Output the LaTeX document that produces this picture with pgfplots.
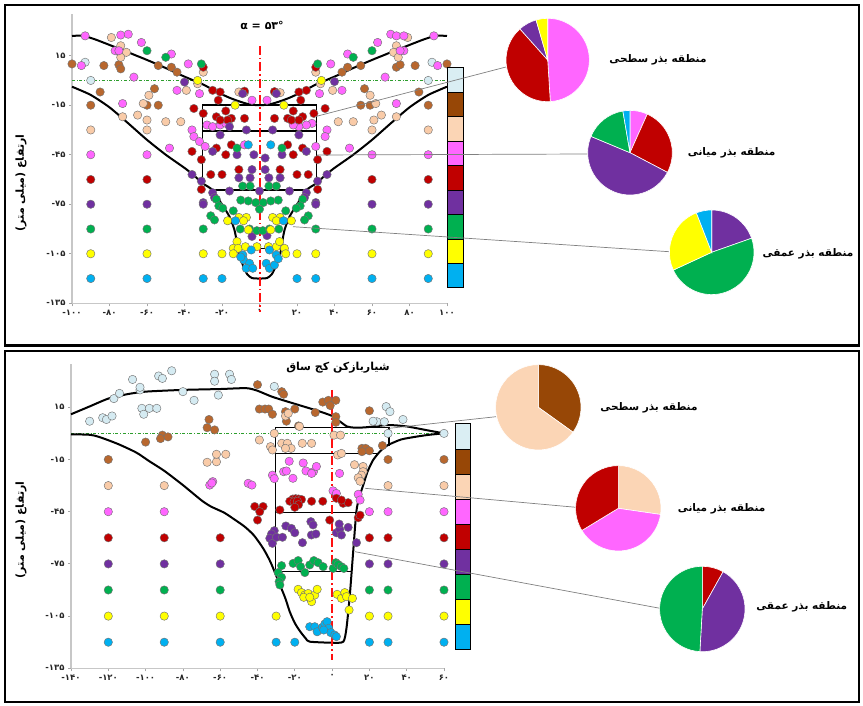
\documentclass[border=0pt]{standalone}
\usepackage{pgfplots}
\pgfplotsset{compat=1.18}
\usepackage{fontspec}
\setmainfont{DejaVu Sans}
\newfontfamily\digfont{DejaVu Sans}
\newfontfamily\arabicfont[Script=Arabic]{DejaVu Sans}
\TeXXeTstate=1
\definecolor{pLB}{HTML}{D5EBF2}
\definecolor{pBR}{HTML}{B8672E}
\definecolor{pPE}{HTML}{F9CBA8}
\definecolor{pPK}{HTML}{FF66FF}
\definecolor{pRD}{HTML}{C00000}
\definecolor{pPU}{HTML}{7030A0}
\definecolor{pGR}{HTML}{00B050}
\definecolor{pYE}{HTML}{FFFF00}
\definecolor{pBL}{HTML}{00B0F0}
\definecolor{bLB}{HTML}{DAEEF3}
\definecolor{bBR}{HTML}{974706}
\definecolor{bPE}{HTML}{FBD5B5}
\definecolor{gline}{HTML}{2E9E2E}
\definecolor{rline}{HTML}{FF1010}
\pgfplotsset{
  panel/.style={scale only axis, anchor=south west, clip=false,
    axis lines*=left, axis line style={-, draw=black!22, line width=1.3pt},
    tick style={draw=black!35, line width=0.8pt}, major tick length=3pt, tick align=outside,
    ymin=-135, ymax=40, ytick={15,-15,-45,-75,-105,-135},
    yticklabels={۱۵,-۱۵,-۴۵,-۷۵,-۱۰۵,-۱۳۵},
    tick label style={font=\digfont\bfseries\fontsize{8.5}{10}\selectfont, text=black!85}},
  pts/.style={only marks, mark=*, mark size=4.2pt, mark options={fill=#1, draw=black!55, line width=0.45pt}},
  crv/.style={black, line width=2pt, smooth, tension=0.4},
  box/.style={black, line width=1.5pt},
  rdash/.style={draw=rline, line width=2pt, dash pattern=on 9pt off 3pt on 1.5pt off 3pt}
}
\newcommand\pie[3]{%
  \xdef\ang{90}%
  \foreach \v/\c in {#3}{%
    \pgfmathsetmacro\endang{\ang-3.6*\v}%
    \fill[\c, draw=white, line width=0.6pt] (#1) -- ++(\ang:#2) arc[start angle=\ang, end angle=\endang, radius=#2] -- cycle;
    \global\let\ang\endang}}
\newcommand\lab[1]{{\arabicfont\bfseries\beginR #1\endR}}
\begin{document}
\begin{tikzpicture}[x=1pt,y=1pt]
\useasboundingbox (0,0) rectangle (863,705);
\draw[line width=2.5pt] (5,700) rectangle (859,359.5);
\draw[line width=2.5pt] (5,354) rectangle (859,3);
% ================= TOP =================
\begin{axis}[panel, at={(72pt,401.7pt)}, width=375pt, height=288.9pt,
  xmin=-100, xmax=100, xtick={-100,-80,...,100},
  xticklabels={-۱۰۰,-۸۰,-۶۰,-۴۰,-۲۰,۰,۲۰,۴۰,۶۰,۸۰,۱۰۰}]
\addplot[pts=pLB] coordinates {(-93,11) (-90,0) (92,11) (90,0)};
\addplot[pts=pBR] coordinates {(-100,10) (-83,9) (-75,9.5) (-74,7) (-54,9) (-47,8) (-44,5) (-85,-7) (-56,-5) (-60,-15) (-54,-15) (-90,-15) (44,5) (47,8) (54,9) (73,8) (75,9.5) (83,9) (100,10) (56,-5) (54,-15) (59,-15) (85,-7) (90,-15)};
\addplot[pts=pPE] coordinates {(-79,26) (-74,21) (-75,17.4) (-71,17) (-74,14) (-39,-6) (-33,-2) (-30,5) (-59,-9) (-62,-14) (-65,-21) (-60,-24) (-50,-25) (-42,-25) (-73,-22) (-90,-30) (-60,-30) (-11,-7) (-8,-7.4) (8,-7) (11,-7.4) (79,26) (73,21) (74,17.4) (71.5,17) (74,14) (39,-6) (32.5,-2) (30,5) (59,-9) (62,-14) (65,-21) (61,-24) (50,-25) (42,-25) (73,-22) (90,-30) (60,-30)};
\addplot[pts=pPK] coordinates {(-93,27) (-95,9) (-77,18) (-75,18) (-74,27.5) (-70,28) (-63,23) (-47,16) (-38,10) (-67,2) (-44,-6) (-32,-8) (-73,-14) (-48,-41) (-36,-30) (-35,-34) (-32,-37) (-28,-27) (-25,-28) (-21,-27) (-18,-26) (-4,-12) (-90,-45) (-60,-45) (-29,-40) (-8,-39)
 (93,27) (95,9) (77,18) (75,18) (70,28) (73,27) (77,27) (63,23) (47,16) (38,10) (67,2) (44,-6) (32,-8) (73,-14) (48,-41) (36,-30) (35,-34) (28,-26) (25,-27) (21,-28) (18,-27) (4,-12) (90,-45) (60,-45) (30,-40)};
\addplot[pts=pRD] coordinates {(-25,-6) (-21,-7) (-22,-12) (-35,-17) (-30,-20) (-23,-22) (-18,-18.5) (-15,-23) (-17,-24) (-21,-24) (-8,-23) (-30,8) (25,-6) (21,-7) (22,-12) (35,-17) (29,-20) (23,-22) (18,-18.5) (15,-23) (17,-24) (21,-24) (8,-23) (30,8) (-8,-6.5) (8,-6.8) (-36,-43) (-31,-48) (-23,-41) (-15,-39) (-11,-54) (-26,-57) (-20,-57) (-31,-66) (11,-54) (36,-43) (31,-48) (23,-41) (15,-39) (26,-57) (20,-57) (31,-66) (-90,-60) (-60,-60) (60,-60) (90,-60) (-18,-45) (18,-45)};
\addplot[pts=pPU] coordinates {(-40,-1) (40,-0.7) (-9,-8) (9,-8) (-25,-43) (-12,-45) (-3,-45) (-4,-54) (3,-54) (-36,-57) (-31,-61) (-25,-68) (-24,-71) (-11,-59) (-5,-59) (-16,-67) (0,-67) (-30,-74) (25,-43) (12,-45) (3,-47) (36,-57) (31,-61) (25,-68) (24,-71) (11,-59) (5,-59) (16,-67) (30,-74) (-4,-94.5) (4,-94) (-90,-75) (-60,-75) (-30,-75) (30,-75) (60,-75) (90,-75) (-21,-33) (-7,-30) (7,-30) (21,-33) (-16,-28)};
\addplot[pts=pGR] coordinates {(-60,18) (-50,14) (-31,10) (60,18) (50,14) (31,10) (-12,-41) (12,-41) (-9,-64) (-5,-64) (5,-64) (9,-64) (-10,-72.5) (-6,-73) (-2,-74) (2,-74) (6,-73) (10,-72.5) (0,-78) (-23,-72) (-21.7,-76) (-19.6,-77.4) (-14,-79) (-26,-82) (-24,-84.5) (-10.3,-90) (-5.3,-90) (-1.4,-91) (1.8,-91) (23,-72) (21.7,-76) (19.6,-77.4) (14,-79) (26,-82) (24,-84.5) (10.3,-90) (5.3,-90) (-90,-90) (-60,-90) (-30,-90) (30,-90) (60,-90) (90,-90)};
\addplot[pts=pYE] coordinates {(-33,0) (33,0) (-13,-15) (13,-15) (-17,-85) (-11,-83) (-7,-83) (-8.5,-85) (7,-83) (11,-83) (9,-85) (17,-85) (-6,-90.5) (6,-90.5) (-12,-97.6) (-14,-101.7) (-11.4,-101.7) (-7.5,-100.7) (-1.4,-100.7) (4.8,-100.7) (9,-100.7) (10.7,-97.6) (13.3,-101.7) (-14,-105) (14,-105) (-90,-105) (-60,-105) (-30,-105) (-20,-105) (20,-105) (30,-105) (60,-105) (90,-105)};
\addplot[pts=pBL] coordinates {(-6,-39) (6,-39) (-12.8,-85) (12.8,-85) (-8.9,-105.7) (-4.4,-102.7) (8.9,-105.7) (5.3,-102.7) (-8.5,-108.7) (-5.3,-110.8) (-7.1,-113.8) (-3.6,-113.8) (3.6,-110.8) (5.3,-113.8) (8,-111.8) (-10,-107) (10,-108) (-90,-120) (-60,-120) (-30,-120) (-20,-120) (20,-120) (30,-120) (60,-120) (90,-120)};
\addplot[gline, dash dot, line width=1pt] coordinates {(-100,0) (100,0)};
\addplot[crv] coordinates {(-100,27) (-94,27) (-88,25) (-80,21.5) (-70,17) (-60,12.4) (-50,7.5) (-40,2.3) (-30,-2.5) (-23,-6.8) (-16,-10.5) (-10,-13) (-5,-14.6) (0,-15) (5,-14.6) (10,-13) (16,-10.5) (23,-6.8) (30,-2.5) (40,2.3) (50,7.5) (60,12.4) (70,17) (80,21.5) (88,25) (94,27) (100,27)};
\addplot[crv] coordinates {(-100,-3.8) (-90,-8.8) (-80,-16.3) (-70,-26) (-60,-36) (-50,-45) (-40,-53) (-35,-57.5) (-30.3,-62.3) (-25,-66.4) (-20.4,-74.4) (-16,-82.5) (-13.5,-90) (-12.4,-96) (-11.8,-101.7) (-10,-108) (-8.5,-113) (-6.5,-117.5) (-4,-119.7) (0,-120) (4,-119.7) (6.5,-117.5) (8.5,-113) (10,-108) (11.8,-101.7) (12.4,-96) (13.5,-90) (16,-82.5) (20.4,-74.4) (25,-66.4) (30.3,-62.3) (35,-57.5) (40,-53) (50,-45) (60,-36) (70,-26) (80,-16.3) (90,-8.8) (100,-3.8)};
\addplot[box] coordinates {(-30.3,-62.3) (-30.3,-15) (30.3,-15) (30.3,-62.3)};
\addplot[box] coordinates {(-30.3,-30.6) (30.3,-30.6)};
\addplot[box] coordinates {(-25,-66.4) (25,-66.4)};
\addplot[box] coordinates {(-12,-101.7) (11.5,-101.7)};
\addplot[rdash] coordinates {(0.3,21) (0.3,-140)};
\end{axis}
% ================= BOTTOM =================
\begin{axis}[panel, at={(71pt,36.7pt)}, width=373pt, height=304.5pt,
  xmin=-140, xmax=60, xtick={-140,-120,...,60},
  xticklabels={-۱۴۰,-۱۲۰,-۱۰۰,-۸۰,-۶۰,-۴۰,-۲۰,۰,۲۰,۴۰,۶۰}]
\addplot[pts=pLB] coordinates {(-130,7) (-123,9) (-121,8) (-118,10) (-117,20) (-114,23) (-107,31) (-103,25) (-103,26.5) (-102,14.4) (-101,11) (-98,14.4) (-94,14.4) (-93,33) (-91,31.6) (-86,36) (-80,24) (-74,19) (-63,34) (-63,30) (-61,22) (-55,34) (-54,31) (-31,27) (29,15.4) (31,12.5) (24,6.7) (28,6.7) (38,8) (22,7) (30,0) (60,0)};
\addplot[pts=pBR] coordinates {(-40,28) (-27,24) (-26,22.5) (-39,14) (-36,14) (-34,14) (-32,11) (-25,12.5) (-20,14) (-24.5,7) (-18,4.3) (-9,12) (-5,18) (-2,19) (2,19) (-1,16) (2,9.6) (2,6.4) (20,13) (16,-8.6) (18,-8.6) (20,-10) (16,-10.5) (27,-7) (-66,8) (-67,3.3) (-63,2) (-91,-1) (-92,-3) (-88,-2) (-100,-5) (-120,-15) (30,-15) (60,-15)};
\addplot[pts=pPE] coordinates {(-31,0) (-27,-5.7) (-24,-5.7) (-22,-8.6) (-25,-8.6) (-33,-7.6) (-32,-9.5) (-16,-5.7) (-11,-5.7) (1,-1) (4.5,-1) (3,-12.4) (5,-11.5) (12,-18) (16.6,-19) (16.6,-22) (15.7,-24) (14,-25.5) (15,-27.5) (-25,10) (-23.5,11.5) (-39,-3.8) (-67,-16.6) (-62,-16.3) (-57,-12) (-62,-12) (-120,-30) (-90,-30) (30,-30) (60,-30) (-17.5,4)};
\addplot[pts=pPK] coordinates {(-23,-16) (-15.5,-17) (-26,-22) (-24.5,-21.6) (-21,-25.8) (-14,-21.6) (-10,-22) (-8.4,-19) (-11,-23) (4,-23) (0.5,-33) (2.3,-34.5) (14,-35) (15,-38.3) (-32,-24) (-31,-26) (-64,-27.7) (-65.6,-29.7) (-64.5,-28.5) (-45,-28.7) (-43,-29.7) (-120,-45) (-90,-45) (20,-45) (30,-45) (60,-45)};
\addplot[pts=pRD] coordinates {(-21,-37.7) (-19.5,-37.5) (-18,-37.7) (-16.4,-38) (-22.7,-39) (-20.4,-39.3) (-18.6,-39) (-18,-41) (-20,-42.5) (-11,-39) (-5,-39) (-28,-44) (-41.5,-42) (-37,-42) (-38.8,-45) (-40,-49.8) (2.3,-37.3) (5.9,-40.2) (8.6,-39.8) (5,-38.3) (-1.3,-49.8) (14,-48.5) (15,-47) (-120,-60) (-90,-60) (-60,-60) (20,-60) (30,-60) (60,-60)};
\addplot[pts=pPU] coordinates {(-24.8,-53.2) (-21.8,-54.6) (-20,-57.1) (-31,-55.9) (-32.5,-57.8) (-33.4,-60.3) (-32,-63.2) (-29.8,-59.7) (-26.6,-59.7) (-15.9,-62.8) (-11.4,-50.7) (-10.2,-52.6) (-11.1,-58.4) (-8.7,-57.8) (2.3,-57.1) (4.1,-55.1) (5,-58.4) (3.8,-52.1) (8.6,-54) (13.1,-62.8) (-120,-75) (-90,-75) (-60,-75) (20,-75) (30,-75) (60,-75)};
\addplot[pts=pGR] coordinates {(-27.1,-76) (-20.9,-74.7) (-18.2,-73.1) (-16.9,-76.6) (-14.6,-80) (-12,-75.6) (-9.8,-73.1) (-7.5,-74.3) (-4.8,-76.6) (0.6,-77.6) (2,-74.3) (3.2,-75.3) (5,-76.6) (6.3,-77.6) (-28.9,-80) (-27.1,-82.7) (-28.4,-85.2) (-28,-87.1) (-120,-90) (-90,-90) (-60,-90) (20,-90) (30,-90) (60,-90)};
\addplot[pts=pYE] coordinates {(-18.2,-89.6) (-16.4,-91.5) (-14.6,-92.9) (-12.8,-92) (-11,-96.7) (-9.3,-92.9) (-8,-89.6) (-15.2,-94.2) (-12,-94.2) (2.7,-92.5) (5,-94.8) (6.8,-91.5) (7.7,-93.8) (10.9,-94.8) (9.1,-101.5) (-120,-105) (-90,-105) (-60,-105) (-30,-105) (20,-105) (30,-105) (60,-105)};
\addplot[pts=pBL] coordinates {(-12,-111.1) (-9.3,-111.1) (-8,-114) (-5.2,-111.5) (-3.9,-109.5) (-2.7,-108.2) (-1.8,-112) (-0.7,-114.5) (1.4,-115.9) (2.3,-116.8) (-4.5,-113) (-120,-120) (-90,-120) (-60,-120) (-30,-120) (-20,-120) (20,-120) (30,-120) (60,-120)};
\addplot[gline, dash dot, line width=1pt] coordinates {(-140,0) (60,0)};
\addplot[crv] coordinates {(-140,11) (-130,15.5) (-120,20) (-110,22.5) (-100,24) (-80,25) (-60,25.5) (-46,26) (-40,24.5) (-32,21) (-20,17) (-12,14.4) (-5,12) (0,10) (4,7) (8,4) (12,3.3) (18,3.5) (30,4.8) (40,4) (50,2) (60,0)};
\addplot[crv] coordinates {(-140,-0.5) (-130,-0.8) (-125,-2) (-115,-6) (-105,-11) (-98,-16) (-90,-21.5) (-80,-29.7) (-70,-38.5) (-65,-42) (-58,-45.5) (-53,-49) (-47,-53.5) (-42,-58.5) (-37,-66) (-33,-74) (-28,-87) (-25,-95) (-22.7,-102.5) (-20,-109) (-17,-114) (-14,-118) (-12,-119.7) (0,-120.3) (6,-119.7) (7.7,-112) (9.5,-93) (11.3,-68) (13,-45) (14.5,-37) (16.6,-30) (19,-22) (22,-15.3) (26,-10) (30,-6.7) (37,-3.5) (45,-1.9) (52,-0.8) (59.5,0)};
\addplot[box] coordinates {(-30.4,-79.5) (-30.4,3.3) (30.4,3.3) (30.4,-7)};
\addplot[box] coordinates {(-30.4,-11.5) (24,-11.5)};
\addplot[box] coordinates {(-30.4,-45.6) (13.2,-45.6)};
\addplot[box] coordinates {(-30.4,-79.5) (10.6,-79.5)};
\addplot[rdash] coordinates {(0,25) (0,-130)};
\end{axis}
% ---------- colour bars ----------
\foreach \c [count=\i from 0] in {bLB,bBR,bPE,pPK,pRD,pPU,pGR,pYE,pBL}{
  \draw[fill=\c, line width=1pt] (447,{637-24.44*\i}) rectangle (463,{637-24.44*(\i+1)});
  \draw[fill=\c, line width=1pt] (455,{281-25.1*\i}) rectangle (470,{281-25.1*(\i+1)});
}
% ---------- leader lines ----------
\draw[black!50, line width=0.7pt] (315,588.3) -- (506,638);
\draw[black!50, line width=0.7pt] (317,550) -- (588,551);
\draw[black!50, line width=0.7pt] (293,478.3) -- (669,453.3);
\draw[black!50, line width=0.7pt] (389.3,276.7) -- (496,288.3);
\draw[black!50, line width=0.7pt] (365,216.7) -- (576,197.7);
\draw[black!50, line width=0.7pt] (355,153.3) -- (660,96.7);
% ---------- pies ----------
\pie{547.7,645}{41.7}{49/pPK,39.4/pRD,7.1/pPU,4.5/pYE}
\pie{630,552.3}{42.3}{6.7/pPK,26/pRD,48.6/pPU,16/pGR,2.7/pBL}
\pie{711.7,452.7}{42.3}{19.6/pPU,48.5/pGR,26/pYE,5.9/pBL}
\pie{538.3,297.7}{42.7}{34.9/bBR,65.1/bPE}
\pie{618.3,196.7}{42.7}{27.3/bPE,39/pPK,33.7/pRD}
\pie{702.3,96}{42.7}{8.1/pRD,42.8/pPU,49.1/pGR}
% ---------- texts ----------
\begin{scope}[every node/.style={font=\fontsize{10.5}{13}\selectfont}]
\node at (658,645) {\lab{منطقه بذر سطحی}};
\node at (731.7,552.3) {\lab{منطقه بذر میانی}};
\node at (808,451) {\lab{منطقه بذر عمقی}};
\node at (649,297) {\lab{منطقه بذر سطحی}};
\node at (721.7,196.7) {\lab{منطقه بذر میانی}};
\node at (801.7,98.3) {\lab{منطقه بذر عمقی}};
\node[font=\fontsize{11}{13}\selectfont] at (338,337.5) {\lab{شیاربازکن کج ساق}};
\node[font=\fontsize{11}{13}\selectfont] at (262,680) {\digfont\bfseries α = ۵۳°};
\node[rotate=90, font=\fontsize{11}{13}\selectfont] at (21,522) {\lab{ارتفاع (میلی متر)}};
\node[rotate=90, font=\fontsize{11}{13}\selectfont] at (21,175) {\lab{ارتفاع (میلی متر)}};
\end{scope}
\end{tikzpicture}
\end{document}
